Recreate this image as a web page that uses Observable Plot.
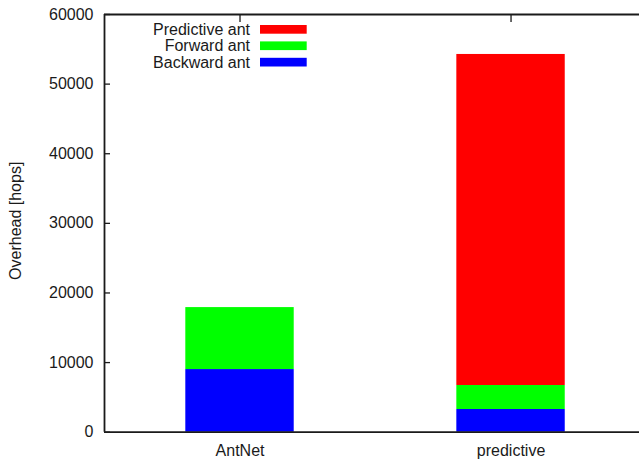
<!DOCTYPE html>
<html>
<head>
<meta charset="utf-8">
<script src="https://cdn.jsdelivr.net/npm/d3@7"></script>
<script src="https://cdn.jsdelivr.net/npm/@observablehq/plot@0.6"></script>
<style>
  html, body { margin: 0; padding: 0; background: #fff; }
  #chart svg { display: block; }
</style>
</head>
<body>
<div id="chart"></div>
<script>
// Routing overhead per method, stacked by ant type
const methods = ["AntNet", "predictive"];
const seriesNames = ["Backward ant", "Forward ant", "Predictive ant"];
const seriesColors = ["#0000ff", "#00ff00", "#ff0000"];
const backwardAnt = [9000, 3260];
const forwardAnt = [8900, 3450];
const predictiveAnt = [0, 47550];
const yTicks = [0, 10000, 20000, 30000, 40000, 50000, 60000];
const legendOrder = ["Predictive ant", "Forward ant", "Backward ant"];

// stack the series bottom-up for each method
const seriesValues = [backwardAnt, forwardAnt, predictiveAnt];
const rows = [];
methods.forEach((m, i) => {
  let base = 0;
  seriesNames.forEach((s, k) => {
    const v = seriesValues[k][i];
    rows.push({i, method: m, series: s, y1: base, y2: base + v});
    base += v;
  });
});

const axisColor = "#1a1a1a";
const font = "'Liberation Sans', Arial, Helvetica, sans-serif";

const chart = Plot.plot({
  width: 639,
  height: 461,
  marginLeft: 104,
  marginRight: 0,
  marginTop: 14,
  marginBottom: 29.3,
  style: {fontFamily: font, fontSize: "16px", color: axisColor, background: "#fff"},
  x: {type: "linear", domain: [-0.5, 1.474], axis: null},
  y: {domain: [0, 60000], axis: null},
  color: {domain: seriesNames, range: seriesColors},
  marks: [
    Plot.rectY(rows, {
      x1: d => d.i - 0.2,
      x2: d => d.i + 0.2,
      y1: "y1",
      y2: "y2",
      fill: "series"
    }),
    // inward tick marks
    Plot.axisY(yTicks, {tickSize: -6, tickFormat: () => "", label: null, stroke: axisColor, strokeWidth: 1.3, strokeOpacity: 1}),
    Plot.axisX([0, 1], {anchor: "top", tickSize: -7, tickFormat: () => "", label: null, stroke: axisColor, strokeWidth: 1.3, strokeOpacity: 1}),
    // tick labels
    Plot.axisY(yTicks, {tickSize: 0, tickPadding: 11, label: null, tickFormat: d => String(d)}),
    Plot.axisX([0, 1], {anchor: "bottom", tickSize: 0, tickPadding: 12, label: null, tickFormat: i => methods[i]}),
    // border lines
    Plot.ruleX([-0.5], {stroke: axisColor, strokeWidth: 1.8}),
    Plot.ruleY([0, 60000], {stroke: axisColor, strokeWidth: 1.8})
  ]
});

document.getElementById("chart").appendChild(chart);

// y-axis title and in-plot legend
const svg = d3.select(chart);
svg.append("text")
  .attr("transform", "translate(20.5,220.8) rotate(-90)")
  .attr("text-anchor", "middle")
  .attr("font-family", font)
  .attr("font-size", 16)
  .attr("fill", axisColor)
  .text("Overhead [hops]");

const legend = svg.append("g").attr("font-family", font).attr("font-size", 16).attr("fill", axisColor);
legendOrder.forEach((name, r) => {
  const cy = 29.3 + r * 16.4;
  legend.append("text")
    .attr("x", 250)
    .attr("y", cy)
    .attr("dy", "0.35em")
    .attr("text-anchor", "end")
    .text(name);
  legend.append("rect")
    .attr("x", 260)
    .attr("y", cy - 4.3)
    .attr("width", 46.7)
    .attr("height", 8.7)
    .attr("fill", seriesColors[seriesNames.indexOf(name)]);
});
</script>
</body>
</html>
